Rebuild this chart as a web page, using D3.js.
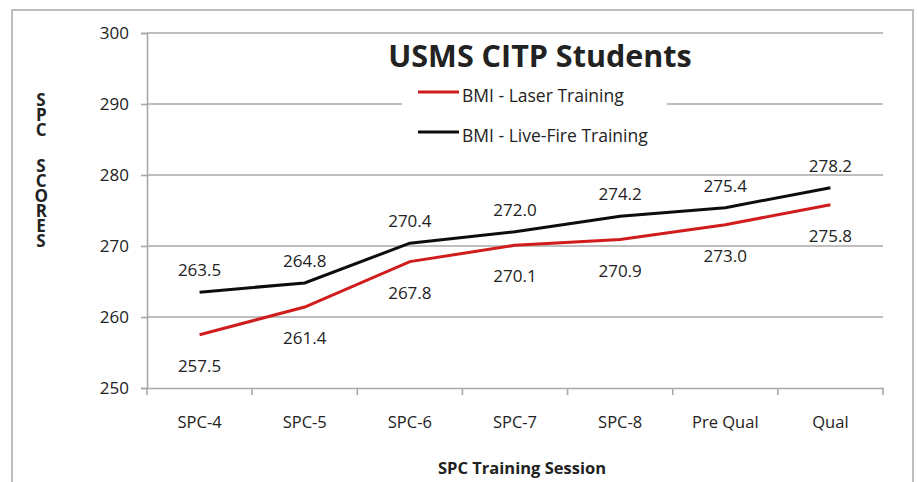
<!DOCTYPE html>
<html>
<head>
<meta charset="utf-8">
<script src="https://cdn.jsdelivr.net/npm/d3@7"></script>
<style>
  body { margin: 0; background: #fff; }
  svg text { font-family: "Open Sans", sans-serif; fill: #222; }
</style>
</head>
<body>
<div id="wrapper"></div>
<script>
const categories = [`SPC-4`, `SPC-5`, `SPC-6`, `SPC-7`, `SPC-8`, `Pre Qual`, `Qual`];
const laser = [257.5, 261.4, 267.8, 270.1, 270.9, 273.0, 275.8];
const liveFire = [263.5, 264.8, 270.4, 272.0, 274.2, 275.4, 278.2];
const yTicks = [250, 260, 270, 280, 290, 300];

const W = 917, H = 482;
const margin = { top: 33, right: 34, bottom: 94, left: 147 };
const width = W - margin.left - margin.right;
const height = H - margin.top - margin.bottom;

const root = d3.select(`#wrapper`)
  .append(`svg`)
  .attr(`width`, W)
  .attr(`height`, H);

// outer chart frame
root.append(`rect`)
  .attr(`x`, 12).attr(`y`, 10)
  .attr(`width`, 901).attr(`height`, 500)
  .attr(`fill`, `none`)
  .attr(`stroke`, `#bdbdbd`)
  .attr(`stroke-width`, 2);

const svg = root.append(`g`)
  .attr(`transform`, `translate(${margin.left}, ${margin.top})`);

const xScale = d3.scaleBand()
  .domain(categories)
  .range([0, width]);

const yScale = d3.scaleLinear()
  .domain([250, 300])
  .range([height, 0]);

const xMid = d => xScale(d) + xScale.bandwidth() / 2;

// gridlines
svg.append(`g`)
  .selectAll(`line`)
  .data(yTicks.slice(1))
  .join(`line`)
  .attr(`x1`, 0).attr(`x2`, width)
  .attr(`y1`, d => yScale(d)).attr(`y2`, d => yScale(d))
  .attr(`stroke`, `#a9a9a9`)
  .attr(`stroke-width`, 1.6);

// y axis
const yAxis = svg.append(`g`)
  .call(d3.axisLeft(yScale).tickValues(yTicks).tickSize(6).tickPadding(12));
yAxis.selectAll(`text`).attr(`font-size`, 17).attr(`fill`, `#333`);

// x axis
const xAxis = svg.append(`g`)
  .attr(`transform`, `translate(0, ${height})`)
  .call(d3.axisBottom(xScale).tickSize(0).tickPadding(28));
xAxis.selectAll(`text`).attr(`font-size`, 16.5).attr(`fill`, `#333`);
xAxis.selectAll(`.tick line`).remove();
xAxis.append(`g`)
  .selectAll(`line`)
  .data(categories.concat([null]))
  .join(`line`)
  .attr(`x1`, (d, i) => i * xScale.step())
  .attr(`x2`, (d, i) => i * xScale.step())
  .attr(`y1`, 0).attr(`y2`, 7)
  .attr(`stroke`, `#a9a9a9`)
  .attr(`stroke-width`, 1.6);

[yAxis, xAxis].forEach(a => {
  a.select(`.domain`).attr(`stroke`, `#a9a9a9`).attr(`stroke-width`, 1.6);
  a.selectAll(`.tick line`).attr(`stroke`, `#a9a9a9`).attr(`stroke-width`, 1.6);
});

// legend box (covers gridline)
const legend = root.append(`g`);
legend.append(`rect`)
  .attr(`x`, 402).attr(`y`, 76)
  .attr(`width`, 265).attr(`height`, 76)
  .attr(`fill`, `#fff`);

const series = [
  { name: `BMI - Laser Training`, values: laser, color: `#d01c1c`, dy: 37 },
  { name: `BMI - Live-Fire Training`, values: liveFire, color: `#0d0d0d`, dy: -16 },
];

const line = d3.line()
  .x((d, i) => xMid(categories[i]))
  .y(d => yScale(d));

series.forEach((s, k) => {
  svg.append(`path`)
    .datum(s.values)
    .attr(`d`, line)
    .attr(`fill`, `none`)
    .attr(`stroke`, s.color)
    .attr(`stroke-width`, 3);

  svg.append(`g`)
    .selectAll(`text`)
    .data(s.values)
    .join(`text`)
    .attr(`x`, (d, i) => xMid(categories[i]))
    .attr(`y`, d => yScale(d) + s.dy)
    .attr(`text-anchor`, `middle`)
    .attr(`font-size`, 17)
    .attr(`fill`, `#333`)
    .text(d => d.toFixed(1));

  const ly = 92 + k * 40;
  legend.append(`line`)
    .attr(`x1`, 418).attr(`x2`, 459)
    .attr(`y1`, ly).attr(`y2`, ly)
    .attr(`stroke`, s.color)
    .attr(`stroke-width`, 3);
  legend.append(`text`)
    .attr(`x`, 462).attr(`y`, ly + 10)
    .attr(`font-size`, 17.5)
    .attr(`fill`, `#333`)
    .text(s.name);
});

// title
root.append(`text`)
  .attr(`x`, 540).attr(`y`, 67)
  .attr(`text-anchor`, `middle`)
  .attr(`font-size`, 30.5)
  .attr(`font-weight`, `bold`)
  .attr(`fill`, `#111`)
  .text(`USMS CITP Students`);

// y axis title, letters stacked upright
root.append(`text`)
  .attr(`x`, 41).attr(`y`, 88)
  .style(`writing-mode`, `vertical-rl`)
  .style(`text-orientation`, `upright`)
  .style(`letter-spacing`, `-8px`)
  .style(`word-spacing`, `6px`)
  .attr(`font-size`, 17)
  .attr(`font-weight`, `bold`)
  .attr(`fill`, `#111`)
  .text(`SPC SCORES`);

// x axis title
root.append(`text`)
  .attr(`x`, 522).attr(`y`, 474)
  .attr(`text-anchor`, `middle`)
  .attr(`font-size`, 16.5)
  .attr(`font-weight`, `bold`)
  .attr(`fill`, `#111`)
  .text(`SPC Training Session`);
</script>
</body>
</html>
